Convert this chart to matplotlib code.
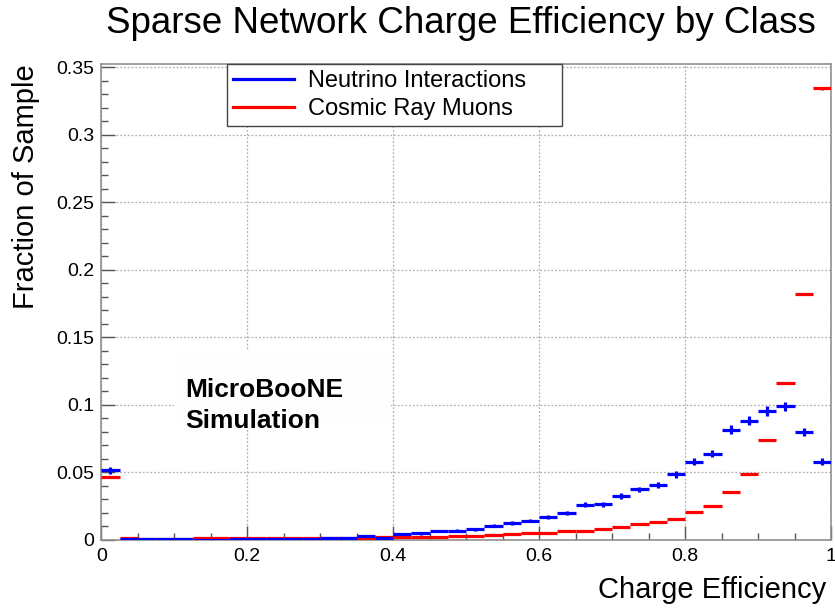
import numpy as np
import matplotlib
matplotlib.use("Agg")
import matplotlib.pyplot as plt
from matplotlib.lines import Line2D
from matplotlib.patches import Rectangle
from matplotlib.ticker import MultipleLocator, FuncFormatter

plt.rcParams['font.family'] = ['Liberation Sans', 'DejaVu Sans']

# 40 bins of charge efficiency, 0 to 1
bin_edges = np.linspace(0, 1, 41)

neutrino = [0.0517, 0.0006, 0.0007, 0.0006, 0.0006, 0.0003, 0.0003, 0.0006,
            0.0009, 0.0009, 0.0008, 0.0010, 0.0011, 0.0011, 0.0030, 0.0013,
            0.0043, 0.0048, 0.0065, 0.0070, 0.0080, 0.0105, 0.0127, 0.0144,
            0.0169, 0.0199, 0.0260, 0.0265, 0.0327, 0.0374, 0.0406, 0.0487,
            0.0579, 0.0640, 0.0816, 0.0882, 0.0954, 0.0989, 0.0799, 0.0581]

cosmic = [0.0468, 0.0012, 0.0010, 0.0010, 0.0010, 0.0012, 0.0013, 0.0013,
          0.0016, 0.0016, 0.0014, 0.0018, 0.0017, 0.0018, 0.0011, 0.0023,
          0.0023, 0.0023, 0.0025, 0.0033, 0.0033, 0.0036, 0.0043, 0.0048,
          0.0053, 0.0063, 0.0070, 0.0082, 0.0095, 0.0117, 0.0134, 0.0157,
          0.0206, 0.0253, 0.0352, 0.0490, 0.0737, 0.1164, 0.1819, 0.3344]

# approximate number of entries per sample (sets the statistical error bars)
n_neutrino = 8000
n_cosmic = 500000

centers = 0.5 * (bin_edges[:-1] + bin_edges[1:])
half_w = 0.5 * np.diff(bin_edges)
nu = np.array(neutrino)
cr = np.array(cosmic)

fig = plt.figure(figsize=(8.35, 6.10), dpi=100)
ax = fig.add_axes([0.1214, 0.1148, 0.9952 - 0.1214, 0.8951 - 0.1148])

ax.errorbar(centers, cr, xerr=half_w, yerr=np.sqrt(cr / n_cosmic),
            fmt='none', ecolor='#ff0000', elinewidth=2.3, capsize=0, zorder=3)
ax.errorbar(centers, nu, xerr=half_w, yerr=np.sqrt(nu / n_neutrino),
            fmt='none', ecolor='#0000ff', elinewidth=2.3, capsize=0, zorder=4)

ax.set_xlim(0, 1)
ax.set_ylim(0, 0.3525)
ax.xaxis.set_major_locator(MultipleLocator(0.2))
ax.xaxis.set_minor_locator(MultipleLocator(0.05))
ax.yaxis.set_major_locator(MultipleLocator(0.05))
ax.yaxis.set_minor_locator(MultipleLocator(0.01))
fmt = FuncFormatter(lambda v, p: '%g' % round(v, 4))
ax.xaxis.set_major_formatter(fmt)
ax.yaxis.set_major_formatter(fmt)

ax.grid(True, which='major', linestyle=(0, (1.5, 1.5)), color='#b0b0b0', linewidth=0.9)
ax.tick_params(which='both', direction='in', colors='#555555', labelcolor='black',
               labelsize=14, top=False, right=False)
ax.tick_params(which='major', length=10, width=1)
ax.tick_params(which='minor', length=5, width=1)
ax.tick_params(axis='x', pad=6)
ax.tick_params(axis='y', pad=5)
for s in ax.spines.values():
    s.set_color('#909090')
    s.set_linewidth(1.2)

fig.text(0.552, 0.961, 'Sparse Network Charge Efficiency by Class',
         ha='center', va='center', fontsize=26.5)
ax.set_xlabel('Charge Efficiency', fontsize=21, loc='right', labelpad=8)
ax.xaxis.label.set_x(0.994)
ax.set_ylabel('Fraction of Sample', fontsize=21, loc='top', labelpad=12)

handles = [Line2D([], [], color='#0000ff', lw=2.3),
           Line2D([], [], color='#ff0000', lw=2.3)]
leg = ax.legend(handles, ['Neutrino Interactions', 'Cosmic Ray Muons'],
                loc='upper left', bbox_to_anchor=(0.172, 0.87, 0.459, 0.13),
                mode='expand', fontsize=17,
                frameon=True, fancybox=False, handlelength=2.6, handletextpad=0.6,
                borderpad=0.25, labelspacing=0.25, borderaxespad=0)
leg.get_frame().set_edgecolor('#444444')
leg.get_frame().set_linewidth(1.0)
leg.get_frame().set_alpha(1)
leg._legend_box.align = 'left'

# white pave behind the label hides the grid
ax.add_patch(Rectangle((0.099, 0.237), 0.298, 0.16, transform=ax.transAxes,
                       facecolor='#fefefe', edgecolor='none', zorder=2.5))
ax.text(0.1146, 0.34, 'MicroBooNE\nSimulation', transform=ax.transAxes,
        ha='left', va='top', fontsize=19, fontweight='bold', linespacing=1.38,
        zorder=5)

fig.savefig('out.png', dpi=100)
